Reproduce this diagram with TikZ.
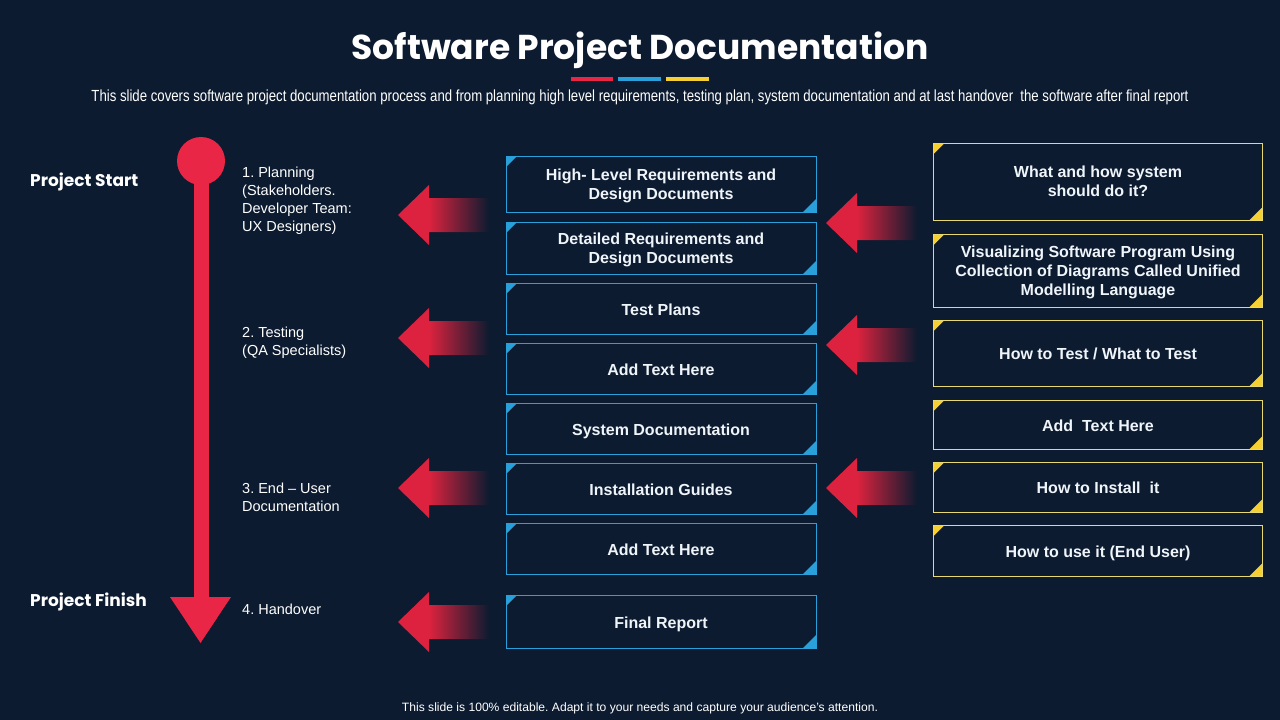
\documentclass[tikz,border=0pt]{standalone}
\usepackage{fontspec}
\setmainfont{Liberation Sans}
\newfontfamily\titlefont{Poppins}
\newfontfamily\narrowfont[FakeStretch=0.82]{Liberation Sans}
\usetikzlibrary{shapes.geometric}
\frenchspacing
\definecolor{bg}{RGB}{12,27,48}
\definecolor{tred}{RGB}{234,38,70}
\definecolor{ared}{RGB}{220,34,62}
\definecolor{bblue}{RGB}{42,160,218}
\definecolor{byell}{RGB}{232,216,112}
\definecolor{tyell}{RGB}{246,208,50}
\definecolor{btext}{RGB}{240,245,250}
\pgfdeclarehorizontalshading{arrowfade}{100bp}{color(0bp)=(ared); color(25bp)=(ared); color(42bp)=(ared); color(75bp)=(bg); color(100bp)=(bg)}
\tikzset{
  boxbase/.style={line width=0.9pt, fill=bg, inner sep=2pt, text depth=0pt,
    text=btext, align=center, font=\fontsize{16}{19}\selectfont\bfseries,
    execute at begin node={\rule{0pt}{13pt}}},
  midbox/.style={boxbase, draw=bblue, minimum width=310pt,
    path picture={
      \fill[bblue] (path picture bounding box.north west) -- ++(11pt,0pt) -- ++(-11pt,-11pt) -- cycle;
      \fill[bblue] (path picture bounding box.south east) -- ++(-13pt,0pt) -- ++(13pt,13pt) -- cycle;}},
  rightbox/.style={boxbase, draw=byell, minimum width=329pt,
    path picture={
      \fill[tyell] (path picture bounding box.north west) -- ++(11pt,0pt) -- ++(-11pt,-11pt) -- cycle;
      \fill[tyell] (path picture bounding box.south east) -- ++(-13pt,0pt) -- ++(13pt,13pt) -- cycle;}},
  steptext/.style={anchor=north west, inner sep=0pt, text=white, align=left,
    font=\fontsize{14.5}{18}\selectfont},
  phase/.style={anchor=west, inner sep=0pt, text=white, font=\titlefont\fontsize{17}{20}\selectfont\bfseries},
}
\newcommand{\fadearrow}[2]{%
  \shade[shading=arrowfade] (#1,#2) -- ++(31,-30) -- ++(0,13) -- ++(60,0) -- ++(0,34) -- ++(-60,0) -- ++(0,13) -- cycle;}
\begin{document}
\begin{tikzpicture}[x=1pt,y=-1pt]
\fill[bg] (0,0) rectangle (1280,720);
\useasboundingbox (0,0) rectangle (1280,720);

% title
\node[text=white, font=\titlefont\fontsize{34.5}{38}\selectfont\bfseries] (title) at (640,50.5) {Software Project Documentation};
\fill[tred] (571,77) rectangle (613,81);
\fill[bblue] (618,77) rectangle (661,81);
\fill[tyell] (666,77) rectangle (709,81);
\node[text=white, inner sep=0pt] (sub) at (640,97) {\resizebox{1097pt}{!}{\narrowfont\fontsize{12.5}{14}\selectfont This slide covers software project documentation process and from planning high level requirements, testing plan, system documentation and at last handover\ \ the software after final report}};

% timeline
\fill[tred] (201,161) circle (24);
\fill[tred] (193.5,161) rectangle (208.5,600);
\fill[tred] (170,597) -- (231,597) -- (200.5,643) -- cycle;
\node[phase] (pstart) at (30,182) {Project Start};
\node[phase] (pfinish) at (30,602) {Project Finish};

% step texts
\node[steptext] (s1) at (242,167) {1. Planning\\(Stakeholders.\\Developer Team:\\UX Designers)};
\node[steptext] (s2) at (242,327) {2. Testing\\(QA Specialists)};
\node[steptext] (s3) at (242,483) {3. End -- User\\Documentation};
\node[steptext] (s4) at (242,604) {4. Handover};

% arrows
\fadearrow{398}{215}
\fadearrow{398}{338}
\fadearrow{398}{488}
\fadearrow{398}{622}
\fadearrow{826}{223}
\fadearrow{826}{345}
\fadearrow{826}{488}

% middle boxes
\node[midbox, minimum height=56pt] (m1) at (661,184) {High- Level Requirements and\\Design Documents};
\node[midbox, minimum height=52pt] (m2) at (661,248) {Detailed Requirements and\\Design Documents};
\node[midbox, minimum height=51pt] (m3) at (661,308.5) {Test Plans};
\node[midbox, minimum height=51pt] (m4) at (661,368.5) {Add Text Here};
\node[midbox, minimum height=51pt] (m5) at (661,428.5) {System Documentation};
\node[midbox, minimum height=51pt] (m6) at (661,488.5) {Installation Guides};
\node[midbox, minimum height=51pt] (m7) at (661,548.5) {Add Text Here};
\node[midbox, minimum height=53pt] (m8) at (661,621.5) {Final Report};

% right boxes
\node[rightbox, minimum height=77pt] (r1) at (1098,181.5) {What and how system\\should do it?};
\node[rightbox, minimum height=73pt] (r2) at (1098,270.5) {Visualizing Software Program Using\\Collection of Diagrams Called Unified\\Modelling Language};
\node[rightbox, minimum height=66pt] (r3) at (1098,353) {How to Test / What to Test};
\node[rightbox, minimum height=49pt] (r4) at (1098,424.5) {Add\ \ Text Here};
\node[rightbox, minimum height=50pt] (r5) at (1098,487) {How to Install\ \ it};
\node[rightbox, minimum height=51pt] (r6) at (1098,550.5) {How to use it (End User)};

% footer
\node[text=white, font=\fontsize{12.1}{14}\selectfont] (foot) at (640,708) {This slide is 100\% editable. Adapt it to your needs and capture your audience's attention.};
\end{tikzpicture}
\end{document}
